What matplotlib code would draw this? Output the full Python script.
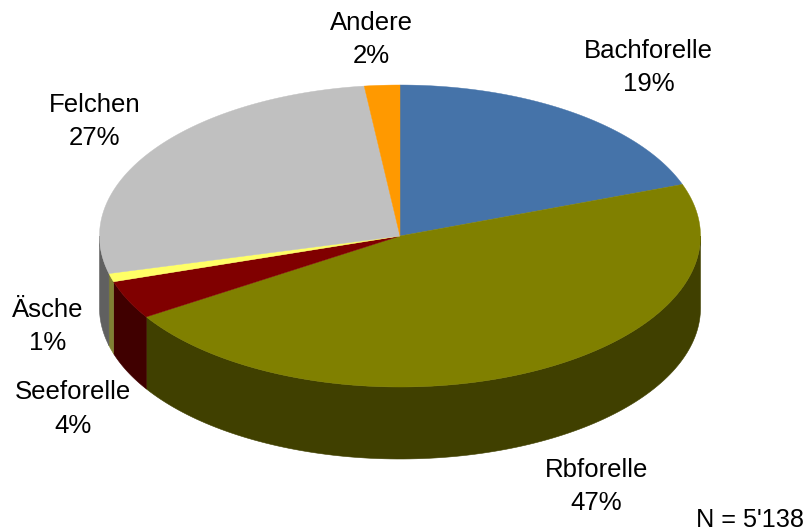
import numpy as np
import matplotlib
matplotlib.use("Agg")
import matplotlib.pyplot as plt
from matplotlib.patches import Polygon

categories = ["Bachforelle", "Rbforelle", "Seeforelle", "Äsche", "Felchen", "Andere"]
values = [19.45, 46.55, 4.1, 0.9, 27.1, 1.9]
top_colors = ["#4573A9", "#808000", "#800000", "#FFFF66", "#C0C0C0", "#FF9900"]
side_colors = ["#233955", "#404000", "#400000", "#808033", "#606060", "#804D00"]
label_xy = [(648.5, 67.5), (596.5, 486.5), (73, 409), (47.5, 326.5), (94.5, 121.5), (371.5, 39.5)]
note = "N = 5'138"

CX, CY, RX, RY, DEPTH = 400, 236, 300.5, 151, 72

plt.rcParams["font.family"] = ["Liberation Sans", "DejaVu Sans"]
fig = plt.figure(figsize=(8.05, 5.31), dpi=100)
ax = fig.add_axes([0, 0, 1, 1])
ax.set_xlim(0, 805)
ax.set_ylim(531, 0)
ax.axis("off")


def rim(t, dy=0.0):
    return np.column_stack((CX + RX * np.sin(t), CY - RY * np.cos(t) + dy))


edges = np.cumsum([0] + values) / sum(values) * 2 * np.pi

# side wall (only the front half of the rim is visible)
for a, b, c in zip(edges[:-1], edges[1:], side_colors):
    lo, hi = max(a, np.pi / 2), min(b, 3 * np.pi / 2)
    if lo < hi:
        t = np.linspace(lo, hi, 120)
        pts = np.vstack((rim(t), rim(t[::-1], DEPTH)))
        ax.add_patch(Polygon(pts, closed=True, fc=c, ec=c, lw=0.4, clip_on=False))

# top surface
for a, b, c in zip(edges[:-1], edges[1:], top_colors):
    t = np.linspace(a, b, 200)
    pts = np.vstack(([[CX, CY]], rim(t)))
    ax.add_patch(Polygon(pts, closed=True, fc=c, ec=c, lw=0.3, clip_on=False))

for name, v, (x, y) in zip(categories, values, label_xy):
    ax.text(x, y, f"{name}\n{v:.0f}%", ha="center", va="center",
            fontsize=18.5, linespacing=1.5, color="black")

ax.text(804, 527, note, ha="right", va="baseline", fontsize=18.2, color="black")

fig.savefig("out.png", dpi=100, facecolor="white")
